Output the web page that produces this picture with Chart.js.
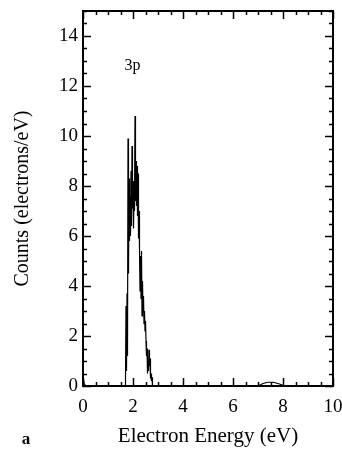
<!DOCTYPE html>
<html>
<head>
<meta charset="utf-8">
<script src="https://cdn.jsdelivr.net/npm/chart.js@4/dist/chart.umd.min.js"></script>
<style>
  html, body { margin: 0; padding: 0; background: #fff; }
  #wrap { width: 342px; height: 455px; position: relative; }
</style>
</head>
<body>
<div id="wrap"><canvas id="c" width="342" height="455"></canvas></div>
<script>
// Electron energy (eV)
const energy = [
  0, 0.05, 0.1, 1.68,
  1.70, 1.72, 1.74, 1.76, 1.78, 1.80, 1.82, 1.84, 1.86, 1.88,
  1.90, 1.92, 1.94, 1.96, 1.98, 2.00, 2.02, 2.04, 2.06, 2.08,
  2.10, 2.12, 2.14, 2.16, 2.18, 2.20, 2.22, 2.24, 2.26, 2.28,
  2.30, 2.32, 2.34, 2.36, 2.38, 2.40, 2.42, 2.44, 2.46, 2.48,
  2.50, 2.52, 2.54, 2.56, 2.58, 2.60, 2.62, 2.64, 2.66, 2.68,
  2.70, 2.72, 2.74, 2.76, 2.78, 2.80,
  7.0, 7.2, 7.4, 7.6, 7.8, 8.0, 8.1, 10
];
// Counts (electrons/eV)
const counts = [
  0.3, 0.1, 0, 0,
  0.3, 3.2, 0.6, 3.7, 1.2, 9.9, 4.5, 8.3, 5.8, 7.6,
  6.0, 8.6, 6.4, 9.6, 7.1, 8.2, 6.3, 7.5, 7.0, 10.8,
  7.4, 9.0, 7.2, 8.8, 6.8, 8.5, 5.9, 7.0, 5.5, 3.8,
  5.2, 3.5, 5.4, 2.8, 4.2, 3.0, 3.6, 2.5, 3.0, 2.2,
  2.6, 1.8, 1.2, 1.5, 0.5, 1.0, 0.6, 1.45, 0.8, 1.1,
  0.3, 0.5, 0.2, 0.35, 0, 0,
  0, 0.1, 0.15, 0.15, 0.1, 0.03, 0, 0
];
const xTickLabels = [0, 2, 4, 6, 8, 10];
const yTickLabels = [0, 2, 4, 6, 8, 10, 12, 14];
const peakLabel = '3p';
const panelLabel = 'a';

const points = energy.map((e, i) => ({ x: e, y: counts[i] }));

const serif = '"Liberation Serif", "DejaVu Serif", serif';

const framePlugin = {
  id: 'frame',
  afterDatasetsDraw(chart) {
    const { ctx, chartArea: { left, right, top, bottom }, scales: { x, y } } = chart;
    ctx.save();
    ctx.strokeStyle = '#000';
    ctx.lineWidth = 2;
    ctx.strokeRect(left, top, right - left, bottom - top);
    ctx.lineWidth = 1.5;
    ctx.beginPath();
    for (let i = 0; i <= 20; i++) {
      const v = i * 0.5;
      const px = Math.round(x.getPixelForValue(v)) + 0.5;
      const len = (i % 4 === 0) ? 8 : 4;
      ctx.moveTo(px, bottom); ctx.lineTo(px, bottom - len);
      ctx.moveTo(px, top); ctx.lineTo(px, top + len);
    }
    for (let i = 0; i <= 30; i++) {
      const v = i * 0.5;
      const py = Math.round(y.getPixelForValue(v)) + 0.5;
      const len = (i % 4 === 0) ? 8 : 4;
      ctx.moveTo(left, py); ctx.lineTo(left + len, py);
      ctx.moveTo(right, py); ctx.lineTo(right - len, py);
    }
    ctx.stroke();
    ctx.fillStyle = '#000';
    ctx.font = '16px ' + serif;
    ctx.textAlign = 'center';
    ctx.textBaseline = 'middle';
    ctx.fillText(peakLabel, x.getPixelForValue(1.98), y.getPixelForValue(12.8));
    ctx.font = 'bold 17px ' + serif;
    ctx.fillText(panelLabel, 26, 440);
    ctx.restore();
  }
};

new Chart(document.getElementById('c'), {
  type: 'scatter',
  data: {
    datasets: [{
      data: points,
      showLine: true,
      borderColor: '#000',
      borderWidth: 1.2,
      pointRadius: 0,
      tension: 0,
      fill: false
    }]
  },
  options: {
    responsive: false,
    animation: false,
    layout: { padding: { top: 11, right: 9, left: 0, bottom: 0 } },
    plugins: { legend: { display: false }, tooltip: { enabled: false } },
    scales: {
      x: {
        type: 'linear',
        min: 0, max: 10,
        afterFit(s) { s.height = 69; s.paddingLeft = 0; s.paddingRight = 0; },
        afterBuildTicks(s) { s.ticks = xTickLabels.map(v => ({ value: v })); },
        grid: { display: false, drawTicks: false },
        border: { display: false },
        ticks: { padding: 10, color: '#000', font: { family: serif, size: 19 }, maxRotation: 0 },
        title: { display: true, text: 'Electron Energy (eV)', color: '#000', font: { family: serif, size: 21 }, padding: { top: 0, bottom: 6 } }
      },
      y: {
        type: 'linear',
        min: 0, max: 15,
        afterFit(s) { s.width = 83; s.paddingTop = 0; s.paddingBottom = 0; },
        afterBuildTicks(s) { s.ticks = yTickLabels.map(v => ({ value: v })); },
        grid: { display: false, drawTicks: false },
        border: { display: false },
        ticks: { padding: 5, color: '#000', font: { family: serif, size: 19 } },
        title: { display: true, text: 'Counts (electrons/eV)', color: '#000', font: { family: serif, size: 20 }, padding: { top: 11, bottom: 0 } }
      }
    }
  },
  plugins: [framePlugin]
});
</script>
</body>
</html>
